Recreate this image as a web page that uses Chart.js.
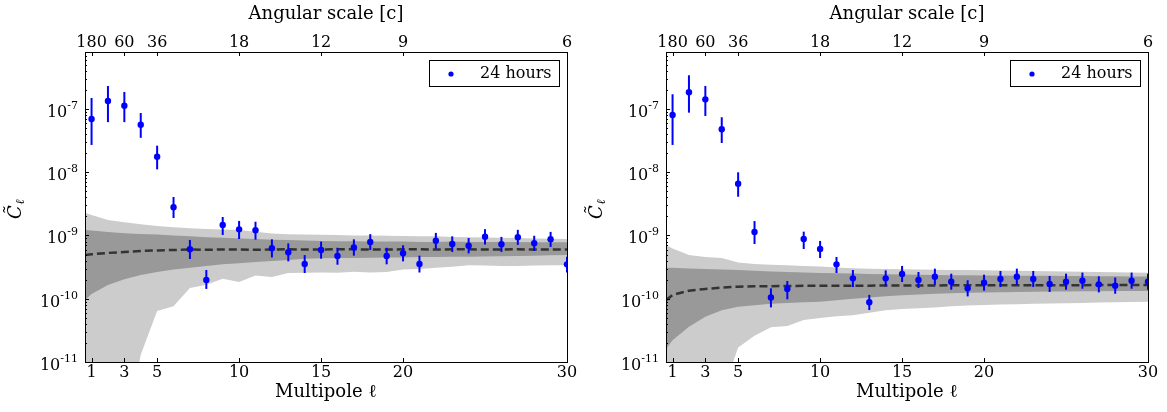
<!DOCTYPE html>
<html>
<head>
<meta charset="utf-8">
<script src="https://cdn.jsdelivr.net/npm/chart.js@4.4.0/dist/chart.umd.min.js"></script>
<style>
  body { margin: 0; background: #fff; }
  .panel { position: absolute; top: 0; }
</style>
</head>
<body>
<div class="panel" style="left:0"><canvas id="left" width="583" height="412"></canvas></div>
<div class="panel" style="left:583px"><canvas id="right" width="584" height="412"></canvas></div>
<script>
// multipoles of the measured points
var ells = [1, 2, 3, 4, 5, 6, 7, 8, 9, 10, 11, 12, 13, 14, 15, 16, 17, 18, 19, 20,
  21, 22, 23, 24, 25, 26, 27, 28, 29, 30];
// multipoles where the noise bands are sampled
var bandEll = [0.6, 1, 2, 3, 4, 5, 6, 7, 8, 9, 10, 11, 12, 13, 14, 15, 16, 17, 18, 19, 20,
  21, 22, 23, 24, 25, 26, 27, 28, 29, 30];

var seriesName = "24 hours";
var xTickValues = [1, 3, 5, 10, 15, 20, 30];
var angleLabels = ["180", "60", "36", "18", "12", "9", "6"];
var yTickValues = [1e-11, 1e-10, 1e-9, 1e-8, 1e-7];
var yTickExps = ["-11", "-10", "-9", "-8", "-7"];

// left panel
var leftVals = [6.95e-8, 1.34e-7, 1.13e-7, 5.65e-8, 1.76e-8, 2.79e-9, 6.05e-10, 1.98e-10, 1.47e-9, 1.25e-9,
  1.21e-9, 6.28e-10, 5.42e-10, 3.54e-10, 5.9e-10, 4.74e-10, 6.5e-10, 7.9e-10, 4.74e-10, 5.23e-10,
  3.54e-10, 8.27e-10, 7.34e-10, 6.9e-10, 9.57e-10, 7.26e-10, 9.37e-10, 7.53e-10, 8.71e-10, 3.5e-10];
var leftLo = [2.7e-8, 6.2e-8, 6.2e-8, 3.5e-8, 1.11e-8, 1.89e-9, 4.25e-10, 1.43e-10, 1.02e-9, 8.8e-10,
  8.6e-10, 4.5e-10, 3.9e-10, 2.55e-10, 4.3e-10, 3.45e-10, 4.8e-10, 5.9e-10, 3.5e-10, 3.9e-10,
  2.6e-10, 6.2e-10, 5.5e-10, 5.2e-10, 7.2e-10, 5.5e-10, 7.1e-10, 5.7e-10, 6.6e-10, 2.6e-10];
var leftHi = [1.49e-7, 2.31e-7, 1.86e-7, 8.65e-8, 2.63e-8, 4.06e-9, 8.5e-10, 2.85e-10, 1.96e-9, 1.7e-9,
  1.65e-9, 8.7e-10, 7.5e-10, 4.9e-10, 8.0e-10, 6.4e-10, 8.7e-10, 1.05e-9, 6.4e-10, 7.0e-10,
  4.8e-10, 1.1e-9, 9.7e-10, 9.1e-10, 1.26e-9, 9.5e-10, 1.23e-9, 9.9e-10, 1.14e-9, 4.6e-10];
var leftMean = [4.9e-10, 5.05e-10, 5.3e-10, 5.5e-10, 5.7e-10, 5.8e-10, 5.9e-10, 6.0e-10, 5.95e-10, 6.0e-10,
  6.0e-10, 5.95e-10, 6.0e-10, 6.05e-10, 6.0e-10, 6.0e-10, 6.05e-10, 6.05e-10, 6.0e-10, 6.0e-10,
  6.05e-10, 6.05e-10, 6.0e-10, 6.05e-10, 6.05e-10, 6.0e-10, 6.0e-10, 6.05e-10, 6.0e-10, 6.0e-10, 6.0e-10];
var leftDarkHi = [1.22e-9, 1.2e-9, 1.14e-9, 1.09e-9, 1.06e-9, 1.04e-9, 1.0e-9, 9.7e-10, 9.4e-10, 9.2e-10,
  9.0e-10, 8.8e-10, 8.6e-10, 8.5e-10, 8.3e-10, 8.2e-10, 8.1e-10, 8.1e-10, 8.0e-10, 8.0e-10,
  8.0e-10, 7.9e-10, 7.9e-10, 8.0e-10, 7.9e-10, 7.9e-10, 7.9e-10, 7.9e-10, 7.8e-10, 7.8e-10, 7.8e-10];
var leftDarkLo = [9.5e-11, 1.19e-10, 1.65e-10, 2.03e-10, 2.37e-10, 2.65e-10, 2.9e-10, 3.1e-10, 3.3e-10, 3.5e-10,
  3.65e-10, 3.8e-10, 3.95e-10, 4.1e-10, 4.3e-10, 4.35e-10, 4.4e-10, 4.4e-10, 4.45e-10, 4.5e-10,
  4.5e-10, 4.55e-10, 4.55e-10, 4.6e-10, 4.6e-10, 4.65e-10, 4.7e-10, 4.75e-10, 4.8e-10, 4.85e-10, 4.9e-10];
var leftLightHi = [2.29e-9, 2.1e-9, 1.76e-9, 1.62e-9, 1.5e-9, 1.41e-9, 1.35e-9, 1.3e-9, 1.27e-9, 1.24e-9,
  1.22e-9, 1.15e-9, 1.08e-9, 1.05e-9, 1.04e-9, 1.03e-9, 1.02e-9, 1.0e-9, 1.0e-9, 9.9e-10,
  9.8e-10, 9.7e-10, 9.7e-10, 9.5e-10, 9.4e-10, 9.3e-10, 9.2e-10, 9.1e-10, 9.0e-10, 8.9e-10, 8.8e-10];
var leftLightLo = [5e-13, 5e-13, 5e-13, 5e-13, 1.3e-11, 6.4e-11, 7.6e-11, 1.48e-10, 1.67e-10, 2.07e-10,
  1.84e-10, 2.34e-10, 2.21e-10, 2.56e-10, 2.58e-10, 2.6e-10, 2.58e-10, 2.67e-10, 2.6e-10, 2.65e-10,
  2.9e-10, 2.95e-10, 3.1e-10, 3.2e-10, 3.4e-10, 3.35e-10, 3.3e-10, 3.3e-10, 3.35e-10, 3.4e-10, 3.4e-10];

// right panel
var rightVals = [8.04e-8, 1.84e-7, 1.42e-7, 4.78e-8, 6.59e-9, 1.14e-9, 1.05e-10, 1.43e-10, 8.81e-10, 6.12e-10,
  3.5e-10, 2.1e-10, 8.79e-11, 2.1e-10, 2.46e-10, 1.98e-10, 2.23e-10, 1.86e-10, 1.46e-10, 1.79e-10,
  2.05e-10, 2.23e-10, 2.05e-10, 1.71e-10, 1.86e-10, 1.93e-10, 1.69e-10, 1.61e-10, 1.93e-10, 1.86e-10];
var rightLo = [2.7e-8, 8.75e-8, 7.75e-8, 2.9e-8, 4.1e-9, 7.34e-10, 7.3e-11, 9.8e-11, 6.12e-10, 4.4e-10,
  2.55e-10, 1.53e-10, 6.64e-11, 1.57e-10, 1.84e-10, 1.48e-10, 1.66e-10, 1.39e-10, 1.09e-10, 1.34e-10,
  1.53e-10, 1.66e-10, 1.53e-10, 1.28e-10, 1.39e-10, 1.44e-10, 1.26e-10, 1.2e-10, 1.44e-10, 1.39e-10];
var rightHi = [1.71e-7, 3.41e-7, 2.31e-7, 7.4e-8, 9.98e-9, 1.69e-9, 1.46e-10, 1.91e-10, 1.15e-9, 8.2e-10,
  4.57e-10, 2.85e-10, 1.15e-10, 2.81e-10, 3.3e-10, 2.65e-10, 2.99e-10, 2.49e-10, 1.96e-10, 2.4e-10,
  2.75e-10, 2.99e-10, 2.75e-10, 2.29e-10, 2.49e-10, 2.59e-10, 2.26e-10, 2.16e-10, 2.59e-10, 2.49e-10];
var rightMean = [9.5e-11, 1.15e-10, 1.34e-10, 1.43e-10, 1.5e-10, 1.55e-10, 1.57e-10, 1.58e-10, 1.59e-10, 1.6e-10,
  1.6e-10, 1.61e-10, 1.61e-10, 1.61e-10, 1.62e-10, 1.62e-10, 1.62e-10, 1.62e-10, 1.63e-10, 1.63e-10,
  1.63e-10, 1.63e-10, 1.64e-10, 1.64e-10, 1.64e-10, 1.64e-10, 1.64e-10, 1.65e-10, 1.65e-10, 1.65e-10, 1.65e-10];
var rightDarkHi = [3.1e-10, 3.08e-10, 3.02e-10, 2.95e-10, 2.9e-10, 2.85e-10, 2.78e-10, 2.7e-10, 2.64e-10, 2.6e-10,
  2.55e-10, 2.52e-10, 2.5e-10, 2.46e-10, 2.44e-10, 2.42e-10, 2.4e-10, 2.38e-10, 2.36e-10, 2.35e-10,
  2.34e-10, 2.33e-10, 2.32e-10, 2.31e-10, 2.3e-10, 2.29e-10, 2.28e-10, 2.27e-10, 2.26e-10, 2.25e-10, 2.24e-10];
var rightDarkLo = [1.6e-11, 2.2e-11, 3.6e-11, 5.2e-11, 6.6e-11, 7.5e-11, 7.9e-11, 8.3e-11, 8.6e-11, 8.8e-11,
  9.0e-11, 9.5e-11, 1.0e-10, 1.05e-10, 1.1e-10, 1.14e-10, 1.17e-10, 1.2e-10, 1.22e-10, 1.24e-10,
  1.26e-10, 1.27e-10, 1.28e-10, 1.29e-10, 1.3e-10, 1.3e-10, 1.31e-10, 1.31e-10, 1.32e-10, 1.32e-10, 1.33e-10];
var rightLightHi = [7.1e-10, 6.2e-10, 4.9e-10, 4.55e-10, 4.4e-10, 3.75e-10, 3.55e-10, 3.45e-10, 3.38e-10, 3.3e-10,
  3.22e-10, 3.12e-10, 3.03e-10, 2.98e-10, 2.95e-10, 2.92e-10, 2.9e-10, 2.88e-10, 2.86e-10, 2.85e-10,
  2.83e-10, 2.8e-10, 2.78e-10, 2.75e-10, 2.72e-10, 2.7e-10, 2.67e-10, 2.65e-10, 2.62e-10, 2.6e-10, 2.58e-10];
var rightLightLo = [5e-13, 5e-13, 5e-13, 5e-13, 3e-12, 1.7e-11, 2.6e-11, 3.55e-11, 3.7e-11, 4.6e-11,
  4.95e-11, 5.3e-11, 5.5e-11, 6.0e-11, 6.6e-11, 6.9e-11, 7.1e-11, 7.3e-11, 7.6e-11, 7.8e-11,
  8.0e-11, 8.1e-11, 8.2e-11, 8.3e-11, 8.4e-11, 8.5e-11, 8.6e-11, 8.7e-11, 8.8e-11, 8.9e-11, 9.0e-11];

Chart.defaults.font.family = "'DejaVu Serif', serif";
Chart.defaults.font.size = 16;
Chart.defaults.color = "#000";

function pts(xs, ys) {
  return xs.map(function (x, i) { return { x: x, y: ys[i] }; });
}

function line(c, x1, y1, x2, y2) {
  c.beginPath();
  c.moveTo(x1, y1);
  c.lineTo(x2, y2);
  c.stroke();
}

function makePanel(canvasId, p) {
  // error bars, frame, inward ticks, y labels and legend (matplotlib look)
  var decor = {
    id: "decor",
    afterDatasetsDraw: function (chart) {
      var xs = chart.scales.x, ys = chart.scales.y, a = chart.chartArea, c = chart.ctx;
      c.save();
      c.beginPath();
      c.rect(a.left, a.top, a.right - a.left, a.bottom - a.top);
      c.clip();
      c.strokeStyle = "#0000ff";
      c.lineWidth = 2;
      ells.forEach(function (l, i) {
        var px = xs.getPixelForValue(l);
        line(c, px, ys.getPixelForValue(p.lo[i]), px, ys.getPixelForValue(p.hi[i]));
      });
      c.restore();
    },
    afterDraw: function (chart) {
      var xs = chart.scales.x, ys = chart.scales.y, a = chart.chartArea, c = chart.ctx;
      c.save();
      c.strokeStyle = "#000";
      c.lineWidth = 1;
      c.strokeRect(Math.round(a.left) + 0.5, Math.round(a.top) + 0.5,
        Math.round(a.right - a.left), Math.round(a.bottom - a.top));

      xTickValues.forEach(function (v) {
        var px = Math.round(xs.getPixelForValue(v)) + 0.5;
        line(c, px, a.bottom, px, a.bottom - 4);
        line(c, px, a.top, px, a.top + 4);
      });
      c.fillStyle = "#000";
      c.textBaseline = "alphabetic";
      c.textAlign = "left";
      yTickValues.forEach(function (v, i) {
        var py = Math.round(ys.getPixelForValue(v)) + 0.5;
        line(c, a.left, py, a.left + 4, py);
        for (var m = 2; m < 10; m++) {
          if (m * v > ys.max) break;
          var qy = Math.round(ys.getPixelForValue(m * v)) + 0.5;
          line(c, a.left, qy, a.left + 2, qy);
        }
        // tick label 10^n
        c.font = "11px 'DejaVu Serif'";
        var ew = c.measureText(yTickExps[i]).width;
        c.font = "16px 'DejaVu Serif'";
        var bw = c.measureText("10").width;
        var x0 = a.left - 7 - ew - bw;
        c.fillText("10", x0, py + 7);
        c.font = "11px 'DejaVu Serif'";
        c.fillText(yTickExps[i], x0 + bw, py - 1);
      });

      // y axis label
      c.save();
      c.translate(a.left - 69, (a.top + a.bottom) / 2 + 2);
      c.rotate(-Math.PI / 2);
      c.textAlign = "center";
      c.textBaseline = "middle";
      c.font = "italic 18px 'DejaVu Serif'";
      c.fillText("C\u0303", -3, 0);
      c.font = "italic 12px 'DejaVu Serif'";
      c.fillText("\u2113", 7, 5);
      c.restore();

      // legend box
      var lw = 130, lh = 26;
      var bx = Math.round(a.right - 8 - lw), by = Math.round(a.top + 8);
      c.fillStyle = "#fff";
      c.fillRect(bx, by, lw, lh);
      c.strokeRect(bx + 0.5, by + 0.5, lw, lh);
      c.fillStyle = "#0000ff";
      c.beginPath();
      c.arc(bx + 22, by + lh / 2 + 1, 2.6, 0, Math.PI * 2);
      c.fill();
      c.fillStyle = "#000";
      c.font = "16px 'DejaVu Serif'";
      c.textAlign = "left";
      c.textBaseline = "middle";
      c.fillText(chart.data.datasets[0].label, bx + 51, by + lh / 2 + 1);
      c.restore();
    }
  };

  var band = { pointRadius: 0, borderWidth: 1, borderColor: "rgba(0,0,0,0)", tension: 0 };

  new Chart(document.getElementById(canvasId).getContext("2d"), {
    type: "line",
    data: {
      datasets: [
        {
          label: seriesName,
          data: pts(ells, p.vals),
          showLine: false,
          pointRadius: 3.2,
          pointBorderWidth: 0,
          pointBackgroundColor: "#0000ff",
          clip: 0
        },
        Object.assign({ label: "mean", data: pts(bandEll, p.mean), fill: false },
          band, { borderColor: "#333333", borderWidth: 2.5, borderDash: [8, 4] }),
        Object.assign({ label: "1 sigma hi", data: pts(bandEll, p.darkHi), fill: "+1", backgroundColor: "#999999" }, band),
        Object.assign({ label: "1 sigma lo", data: pts(bandEll, p.darkLo), fill: false }, band),
        Object.assign({ label: "2 sigma hi", data: pts(bandEll, p.lightHi), fill: "+1", backgroundColor: "#cccccc" }, band),
        Object.assign({ label: "2 sigma lo", data: pts(bandEll, p.lightLo), fill: false }, band)
      ]
    },
    options: {
      responsive: false,
      animation: false,
      events: [],
      layout: { padding: { left: 0, right: p.padRight, top: 0, bottom: 0 } },
      plugins: { legend: { display: false }, tooltip: { enabled: false } },
      scales: {
        x: {
          type: "linear", position: "bottom", min: 0.6, max: 30,
          afterBuildTicks: function (s) { s.ticks = xTickValues.map(function (v) { return { value: v }; }); },
          afterFit: function (s) { s.height = 50; },
          grid: { display: false, drawTicks: false },
          border: { display: false },
          ticks: { autoSkip: false, maxRotation: 0, padding: 1 },
          title: { display: true, text: "Multipole \u2113", font: { size: 18 }, padding: { top: 0, bottom: 9 } }
        },
        x2: {
          type: "linear", position: "top", min: 0.6, max: 30,
          afterBuildTicks: function (s) { s.ticks = xTickValues.map(function (v) { return { value: v }; }); },
          afterFit: function (s) { s.height = 52; },
          grid: { display: false, drawTicks: false },
          border: { display: false },
          ticks: {
            autoSkip: false, maxRotation: 0, padding: 0,
            callback: function (v, i) { return angleLabels[i]; }
          },
          title: { display: true, text: "Angular scale [c]", font: { size: 18 }, padding: { top: 4, bottom: 0 } }
        },
        y: {
          type: "logarithmic", min: 1e-11, max: 7.96e-7,
          afterBuildTicks: function (s) { s.ticks = yTickValues.map(function (v) { return { value: v }; }); },
          afterFit: function (s) { s.width = p.yWidth; },
          grid: { display: false, drawTicks: false },
          border: { display: false },
          ticks: { display: false }
        }
      }
    },
    plugins: [decor]
  });
}

makePanel("left", {
  vals: leftVals, lo: leftLo, hi: leftHi, mean: leftMean,
  darkHi: leftDarkHi, darkLo: leftDarkLo, lightHi: leftLightHi, lightLo: leftLightLo,
  yWidth: 85, padRight: 16
});
makePanel("right", {
  vals: rightVals, lo: rightLo, hi: rightHi, mean: rightMean,
  darkHi: rightDarkHi, darkLo: rightDarkLo, lightHi: rightLightHi, lightLo: rightLightLo,
  yWidth: 83, padRight: 19
});
</script>
</body>
</html>
